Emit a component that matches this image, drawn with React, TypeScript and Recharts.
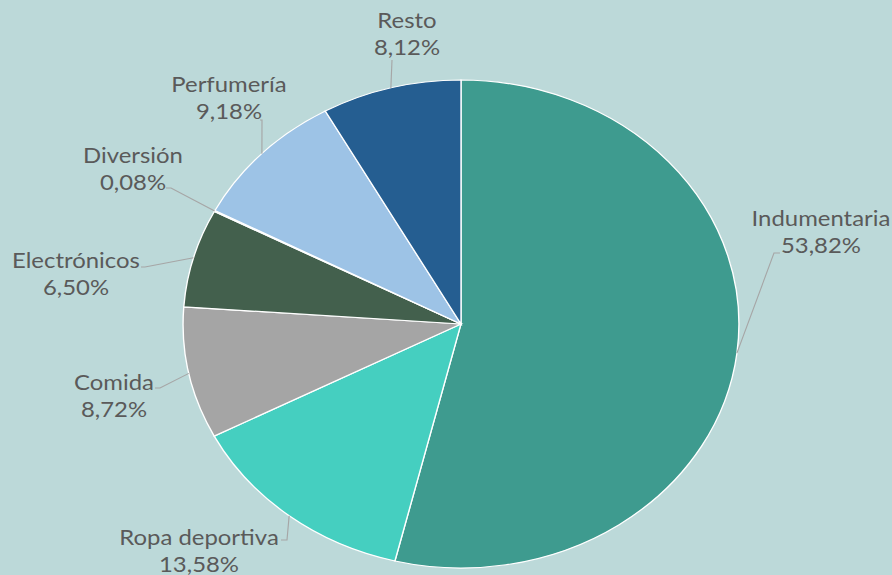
import React from 'react';
import { PieChart, Pie, Cell } from 'recharts';

const categories = ['Indumentaria', 'Ropa deportiva', 'Comida', 'Electrónicos', 'Diversión', 'Perfumería', 'Resto'];
const shares = [53.82, 13.58, 8.72, 6.5, 0.08, 9.18, 8.12];
const colors = ['#3E9B8F', '#45CFC0', '#A5A5A5', '#43604D', '#8FAFC9', '#9DC3E6', '#255E91'];

const data = categories.map((name, i) => ({ name, value: shares[i] }));

// the original is an Excel pie that got stretched sideways
const SX = 1.139;
const W = 892;
const H = 575;

// label placement in screen pixels: text centre, elbow, end of leader line
const labelLayout = [
  { tx: 821, ty: 218, elbow: [774, 253], end: [780, 253] },
  { tx: 199, ty: 537, elbow: [287, 540], end: [281, 540] },
  { tx: 114, ty: 382, elbow: [160, 388], end: [155, 388] },
  { tx: 76, ty: 260, elbow: [145, 267], end: [141, 267] },
  { tx: 133, ty: 155, elbow: [171, 188], end: [166, 188] },
  { tx: 229, ty: 84, elbow: [262, 120], end: [260, 120] },
  { tx: 407, ty: 20, elbow: [392, 60], end: [392, 60] },
];

const RAD = Math.PI / 180;

const renderLabel = (props: any) => {
  const { cx, cy, midAngle, outerRadius, index, value, name } = props;
  const lay = labelLayout[index];
  const ex = cx + outerRadius * Math.cos(-midAngle * RAD);
  const ey = cy + outerRadius * Math.sin(-midAngle * RAD);
  const pct = value.toFixed(2).replace('.', ',') + '%';
  return (
    <g>
      <polyline
        points={`${ex},${ey} ${lay.elbow[0] / SX},${lay.elbow[1]} ${lay.end[0] / SX},${lay.end[1]}`}
        fill="none"
        stroke="#A6A6A6"
        strokeWidth={1}
      />
      <text x={lay.tx / SX} y={lay.ty} textAnchor="middle" dominantBaseline="central" fill="#5A5A5A" fontSize={21} fontFamily="Lato, sans-serif">
        {name}
      </text>
      <text x={lay.tx / SX} y={lay.ty + 27} textAnchor="middle" dominantBaseline="central" fill="#5A5A5A" fontSize={21} fontFamily="Lato, sans-serif">
        {pct}
      </text>
    </g>
  );
};

export default function App() {
  return (
    <div style={{ position: 'absolute', left: 0, top: 0, width: W, height: H, background: '#BCD9D9', overflow: 'hidden' }}>
      <div style={{ width: W / SX, height: H, transform: `scaleX(${SX})`, transformOrigin: '0 0' }}>
        <PieChart width={W / SX} height={H} margin={{ top: 0, right: 0, bottom: 0, left: 0 }}>
          <Pie
            data={data}
            dataKey="value"
            nameKey="name"
            cx={461 / SX}
            cy={324}
            outerRadius={244}
            startAngle={90}
            endAngle={-270}
            stroke="#FFFFFF"
            strokeWidth={1.2}
            label={renderLabel}
            labelLine={false}
            isAnimationActive={false}
          >
            {data.map((d, i) => (
              <Cell key={d.name} fill={colors[i]} />
            ))}
          </Pie>
        </PieChart>
      </div>
    </div>
  );
}
